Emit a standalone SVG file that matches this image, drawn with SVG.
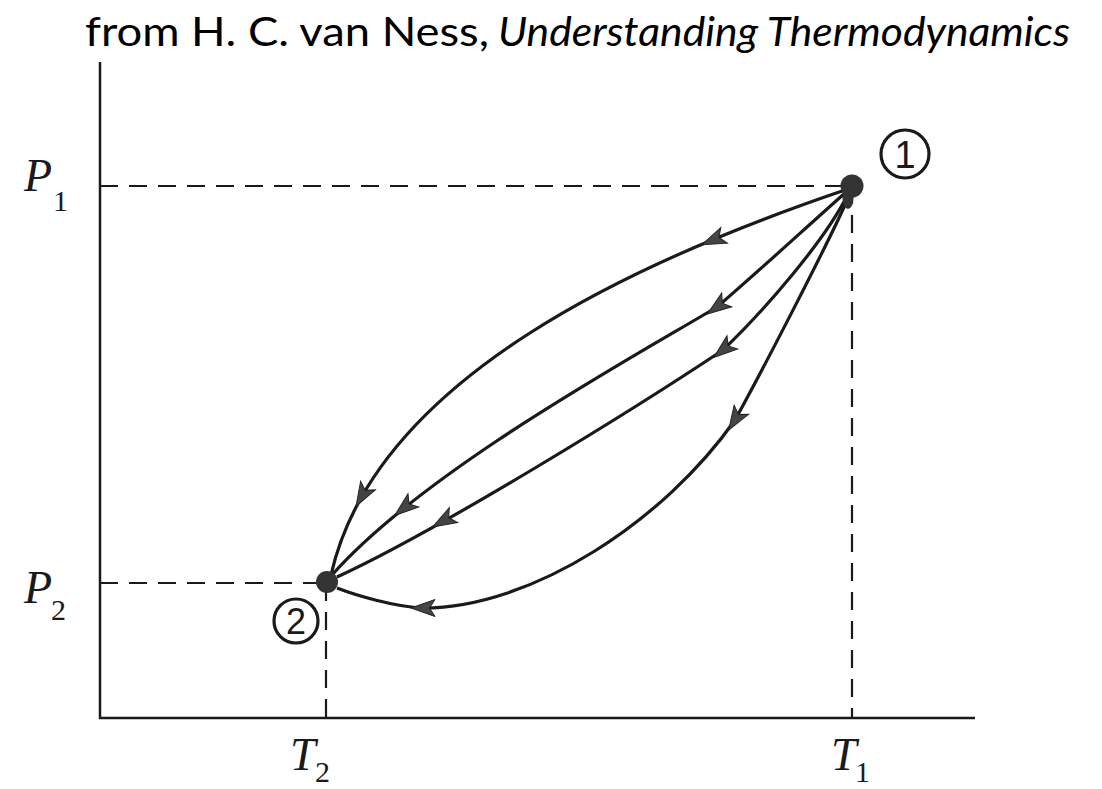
<svg xmlns="http://www.w3.org/2000/svg" width="1102" height="789" viewBox="0 0 1102 789">
<style>
.axis{stroke:#1a1a1a;stroke-width:2.5;fill:none}
.dash{stroke:#1a1a1a;stroke-width:2.2;fill:none;stroke-dasharray:18 11}
.curve{stroke:#1a1a1a;stroke-width:3.2;fill:none;stroke-linejoin:round}
.dot{fill:#333}
.ring{fill:none;stroke:#1a1a1a;stroke-width:3.2}
.lbl{font-family:"Liberation Serif",serif;font-style:italic;fill:#1a1a1a}
.sub{font-family:"Liberation Serif",serif;fill:#1a1a1a}
.num{font-family:"Liberation Sans",sans-serif;fill:#1a1a1a;text-anchor:middle}
.title{font-family:Lato,"Liberation Sans",sans-serif;font-size:41px;fill:#000}
</style>
<defs>
<path id="ah" d="M12,0 L-12,-8.5 L-6.5,0 L-12,8.5 Z" fill="#444" stroke="#222" stroke-width="1"/>
</defs>
<rect width="1102" height="789" fill="#fff"/>
<g id="title">
<text class="title" x="85" y="46" textLength="404" lengthAdjust="spacingAndGlyphs">from H. C. van Ness,</text>
<text class="title" x="498" y="46" font-style="italic" textLength="572" lengthAdjust="spacingAndGlyphs">Understanding Thermodynamics</text>
</g>
<g id="axes">
<path class="axis" d="M100,62 V718 H975"/>
<path class="dash" d="M100,186 H852"/>
<path class="dash" d="M852,186 V718"/>
<path class="dash" d="M100,583 H326"/>
<path class="dash" d="M326,583 V718"/>
</g>
<g id="labels">
<text class="lbl" x="24" y="191" font-size="46">P</text>
<text class="sub" x="53" y="211" font-size="30">1</text>
<text class="lbl" x="24" y="603" font-size="46">P</text>
<text class="sub" x="51" y="620" font-size="30">2</text>
<text class="lbl" x="290" y="770" font-size="46">T</text>
<text class="sub" x="315" y="782" font-size="30">2</text>
<text class="lbl" x="831" y="770" font-size="46">T</text>
<text class="sub" x="855" y="782" font-size="30">1</text>
</g>
<g id="connectors">
<path class="curve" d="M845,190 C645,258 376,375 331,575"/>
<path class="curve" d="M845,193 C800,233 760,270 717,307 C637,355 425,470 332,575"/>
<path class="curve" d="M847,196 C825,240 765,310 723,350 C633,410 437,531 337,577"/>
<path class="curve" d="M849,196 C830,240 760,375 735,420 C665,520 533,608 423,608 C395,607 355,595 337,588"/>
<use href="#ah" transform="translate(713,240) rotate(157)"/>
<use href="#ah" transform="translate(362,496) rotate(120)"/>
<use href="#ah" transform="translate(717,307) rotate(144)"/>
<use href="#ah" transform="translate(404,508) rotate(141)"/>
<use href="#ah" transform="translate(723,350) rotate(141)"/>
<use href="#ah" transform="translate(443,521) rotate(150.6)"/>
<use href="#ah" transform="translate(735,420) rotate(122)"/>
<use href="#ah" transform="translate(423,608) rotate(180)"/>
</g>
<g id="node1">
<circle class="dot" cx="852" cy="186" r="11.5"/>
<ellipse class="dot" cx="848" cy="198" rx="5.5" ry="11"/>
<circle class="ring" cx="905" cy="154" r="24"/>
<text class="num" x="905" y="168" font-size="38">1</text>
</g>
<g id="node2">
<circle class="dot" cx="327" cy="582" r="11"/>
<circle class="ring" cx="296" cy="621" r="22"/>
<text class="num" x="296" y="634" font-size="36">2</text>
</g>
</svg>
